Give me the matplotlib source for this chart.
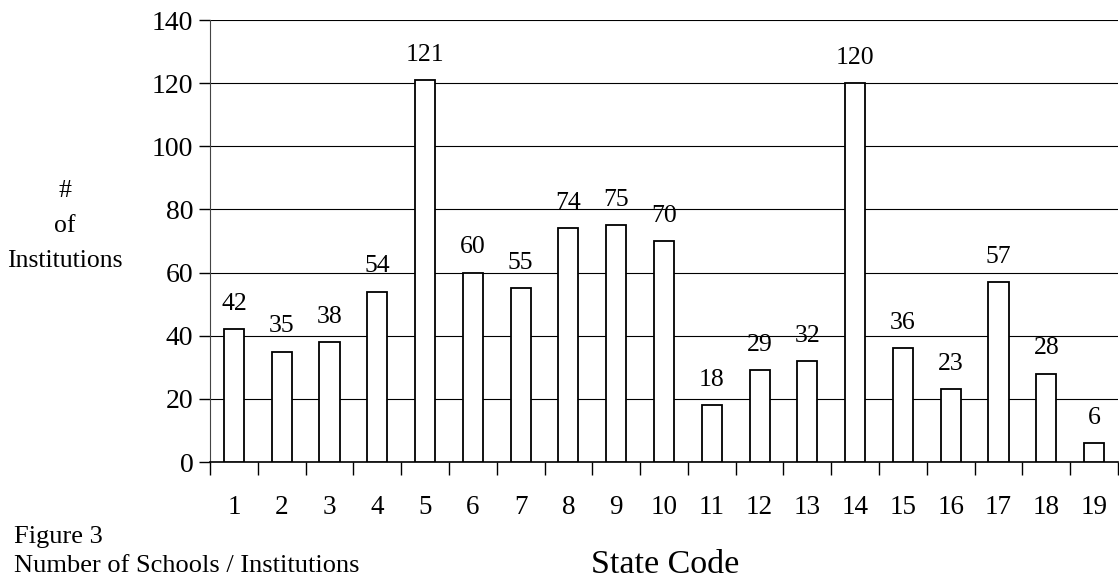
import matplotlib.pyplot as plt
import numpy as np

plt.rcParams['font.family'] = ['Liberation Serif', 'DejaVu Serif']

state_codes = [str(i) for i in range(1, 20)]
institutions = [42, 35, 38, 54, 121, 60, 55, 74, 75, 70, 18, 29, 32, 120, 36, 23, 57, 28, 6]

fig = plt.figure(figsize=(11.19, 5.78), dpi=100)
ax = fig.add_axes([210 / 1119, 1 - 462 / 578, 908 / 1119, 442 / 578])

x = np.arange(len(state_codes))
ax.bar(x, institutions, width=0.42, color='white', edgecolor='black', linewidth=1.3, zorder=3)
for xi, v in zip(x, institutions):
    ax.annotate(str(v), (xi, v), xytext=(0, 14), textcoords='offset points',
                ha='center', va='baseline', fontsize=18.5)

ax.set_xlim(-0.5, len(state_codes) - 0.5)
ax.set_ylim(0, 140)
ax.set_yticks(range(0, 141, 20))
ax.tick_params(axis='y', labelsize=20, length=8, width=1, pad=4)
ax.yaxis.grid(True, color='black', linewidth=0.8, zorder=0)

# category labels sit under the bars, tick marks go between categories
ax.set_xticks(x)
ax.set_xticklabels(state_codes, fontsize=19.5)
ax.tick_params(axis='x', which='major', length=0, pad=24)
ax.set_xticks(np.arange(-0.5, len(state_codes)), minor=True)
ax.tick_params(axis='x', which='minor', length=9, width=1)

for side in ['top', 'right']:
    ax.spines[side].set_visible(False)
ax.spines['left'].set_color('#444444')
ax.spines['bottom'].set_linewidth(1.2)

fig.text(65 / 1119, 1 - 226 / 578, '#\nof\nInstitutions', ha='center', va='center',
         fontsize=18.5, linespacing=1.74)
fig.text(665 / 1119, 1 - 573 / 578, 'State Code', ha='center', va='baseline', fontsize=24.5)
fig.text(14 / 1119, 1 - 543 / 578, 'Figure 3', ha='left', va='baseline', fontsize=19)
fig.text(14 / 1119, 1 - 572 / 578, 'Number of Schools / Institutions', ha='left', va='baseline', fontsize=19)

fig.savefig('out.png', dpi=100)
